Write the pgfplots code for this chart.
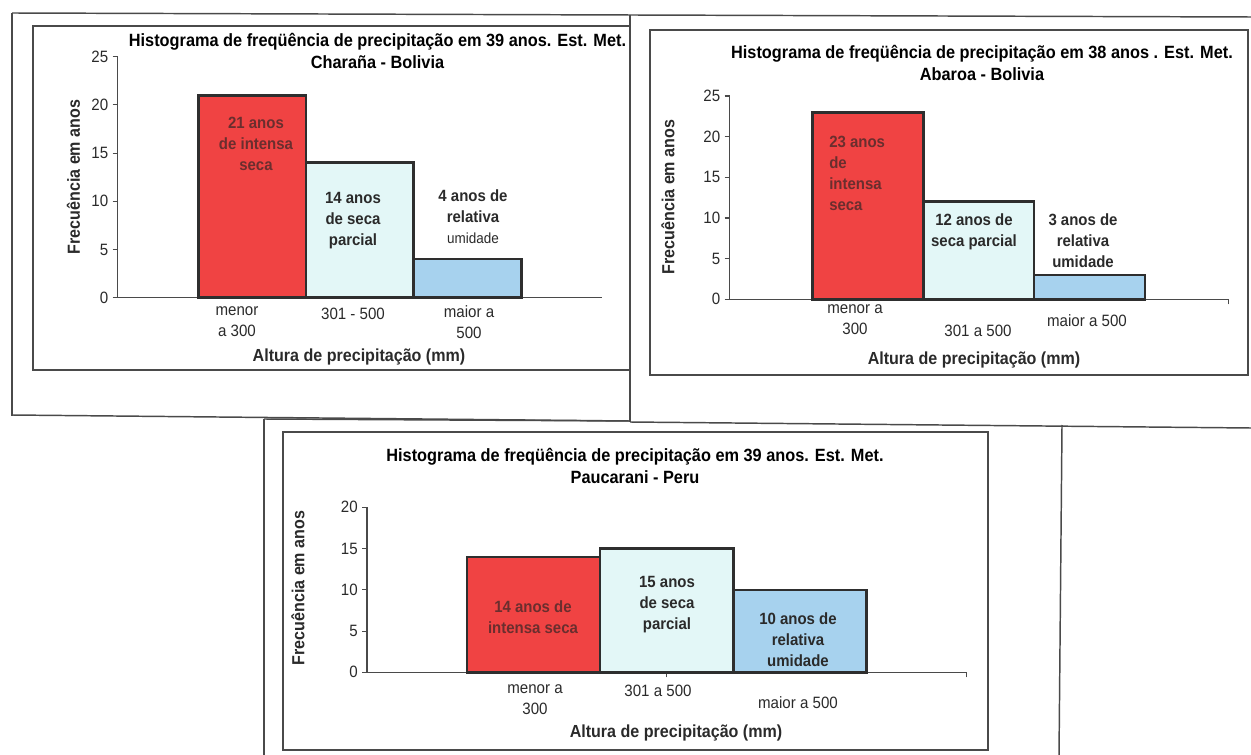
\documentclass[border=0pt]{standalone}
\usepackage{pgfplots}
\pgfplotsset{compat=1.18}
\usepackage{fontspec}
\setmainfont{Liberation Sans}[FakeStretch=0.92]
\definecolor{barred}{HTML}{F04343}
\definecolor{barcyan}{HTML}{E3F7F7}
\definecolor{barblue}{HTML}{A7D2EE}
\definecolor{edge}{HTML}{2E2E2E}
\definecolor{frame}{HTML}{4A4A4A}
\definecolor{txt}{HTML}{2A2A2A}
\definecolor{redtxt}{HTML}{6A2E2E}
\newcommand\ftitle{\fontsize{13.3}{16.5}\selectfont\bfseries}
\newcommand\flab{\fontsize{13.1}{16}\selectfont\bfseries}
\newcommand\fcat{\fontsize{12.3}{15.75}\selectfont}
\newcommand\fbar{\fontsize{12.2}{15.75}\selectfont\bfseries}
\newcommand\fsmall{\fontsize{11}{15.75}\selectfont\mdseries}
\newcommand\ftick{\fontsize{12.3}{14}\selectfont}
\pgfplotsset{hist/.style={
  scale only axis, anchor=south west,
  xmin=0, xmax=4.5, ymin=0,
  axis x line*=bottom, axis y line*=left,
  axis line style={draw=frame, line width=0.9pt},
  tick align=outside, major tick length=3.75pt,
  tick style={draw=frame, line width=0.8pt},
  ytick distance=5,
  yticklabel style={font=\ftick, text=txt, inner sep=3pt},
  /pgf/number format/assume math mode=true,
  xticklabels={},
  ybar, bar width=1, bar shift=0pt,
  every axis plot/.append style={draw=edge, line width=1.9pt},
  clip=false,
}}
\begin{document}
\begin{tikzpicture}[x=0.75pt,y=-0.75pt]
\path[use as bounding box] (0,0) rectangle (1251,755);
% scanned page frames
\begin{scope}[draw=frame, line width=1.1pt]
\draw (12,13) -- (1251,17);
\draw (12,13) -- (12,416);
\draw (12,415) -- (630,421);
\draw (630,15) -- (630,422);
\draw (630,422) -- (1251,428);
\draw (264,419) -- (264,755);
\draw (264,419) -- (630,421);
\draw (1062,425) -- (1059,755);
\end{scope}
\begin{scope}[draw=frame, line width=0.8pt]
\draw (33,26) rectangle (630,370);
\draw (650,30) rectangle (1248,375);
\draw (283,432) rectangle (988,750);
\end{scope}
\coordinate (O1) at (117.5,297.7);
\coordinate (O2) at (729.5,299.3);
\coordinate (O3) at (367,672.3);
% ---------- Chart 1: Charaña ----------
\begin{axis}[hist, at={(O1)}, width=363.4pt, height=180.75pt, ymax=25, xtick=\empty]
\addplot[fill=barred] coordinates {(1.25,21)};
\addplot[fill=barcyan] coordinates {(2.25,14)};
\addplot[fill=barblue] coordinates {(3.25,4)};
\end{axis}
% ---------- Chart 2: Abaroa ----------
\begin{axis}[hist, at={(O2)}, width=373.9pt, height=152.5pt, ymax=25, xtick={4.5}]
\addplot[fill=barred] coordinates {(1.25,23)};
\addplot[fill=barcyan] coordinates {(2.25,12)};
\addplot[fill=barblue] coordinates {(3.25,3)};
\end{axis}
% ---------- Chart 3: Paucarani ----------
\begin{axis}[hist, at={(O3)}, width=449.7pt, height=123.75pt, ymax=20, xtick={2.25,4.5}]
\addplot[fill=barred] coordinates {(1.25,14)};
\addplot[fill=barcyan] coordinates {(2.25,15)};
\addplot[fill=barblue] coordinates {(3.25,10)};
\end{axis}
% ---------- texts chart 1 ----------
\node[font=\ftitle, align=center] at (377.5,51.3) {Histograma de freqüência de precipitação em 39 anos. Est. Met.\\Charaña - Bolivia};
\node[font=\flab, rotate=90, text=txt] at (73.5,177) {Frecuência em anos};
\node[font=\flab, text=txt] at (359,357) {Altura de precipitação (mm)};
\node[font=\fcat, align=center, text=txt] at (237,321.5) {menor\\a 300};
\node[font=\fcat, align=center, text=txt] at (353,314) {301 - 500};
\node[font=\fcat, align=center, text=txt] at (469,322.5) {maior a\\500};
\node[font=\fbar, align=center, text=redtxt] at (256,144) {21 anos\\de intensa\\seca};
\node[font=\fbar, align=center, text=txt] at (353,221) {14 anos\\de seca\\parcial};
\node[font=\fbar, align=center, text=txt] at (473,217) {4 anos de\\relativa\\{\fsmall umidade}};
% ---------- texts chart 2 ----------
\node[font=\ftitle, align=center] at (982,63) {Histograma de freqüência de precipitação em 38 anos . Est. Met.\\Abaroa - Bolivia};
\node[font=\flab, rotate=90, text=txt] at (668,197) {Frecuência em anos};
\node[font=\flab, text=txt] at (974,360) {Altura de precipitação (mm)};
\node[font=\fcat, align=center, text=txt] at (855,320) {menor a\\300};
\node[font=\fcat, align=center, text=txt] at (978,331) {301 a 500};
\node[font=\fcat, align=center, text=txt] at (1087,321) {maior a 500};
\node[font=\fbar, align=left, text=redtxt, anchor=west, inner sep=0pt] at (829,173.5) {23 anos\\de\\intensa\\seca};
\node[font=\fbar, align=center, text=txt] at (974,232) {12 anos de\\seca parcial};
\node[font=\fbar, align=center, text=txt] at (1083,241) {3 anos de\\relativa\\umidade};
% ---------- texts chart 3 ----------
\node[font=\ftitle, align=center] at (635,466) {Histograma de freqüência de precipitação em 39 anos. Est. Met.\\Paucarani - Peru};
\node[font=\flab, rotate=90, text=txt] at (298,588) {Frecuência em anos};
\node[font=\flab, text=txt] at (676,733) {Altura de precipitação (mm)};
\node[font=\fcat, align=center, text=txt] at (535,700) {menor a\\300};
\node[font=\fcat, align=center, text=txt] at (658,691) {301 a 500};
\node[font=\fcat, align=center, text=txt] at (798,703) {maior a 500};
\node[font=\fbar, align=center, text=redtxt] at (533,617.5) {14 anos de\\intensa seca};
\node[font=\fbar, align=center, text=txt] at (667,605) {15 anos\\de seca\\parcial};
\node[font=\fbar, align=center, text=txt] at (798,640) {10 anos de\\relativa\\umidade};
\end{tikzpicture}
\end{document}
